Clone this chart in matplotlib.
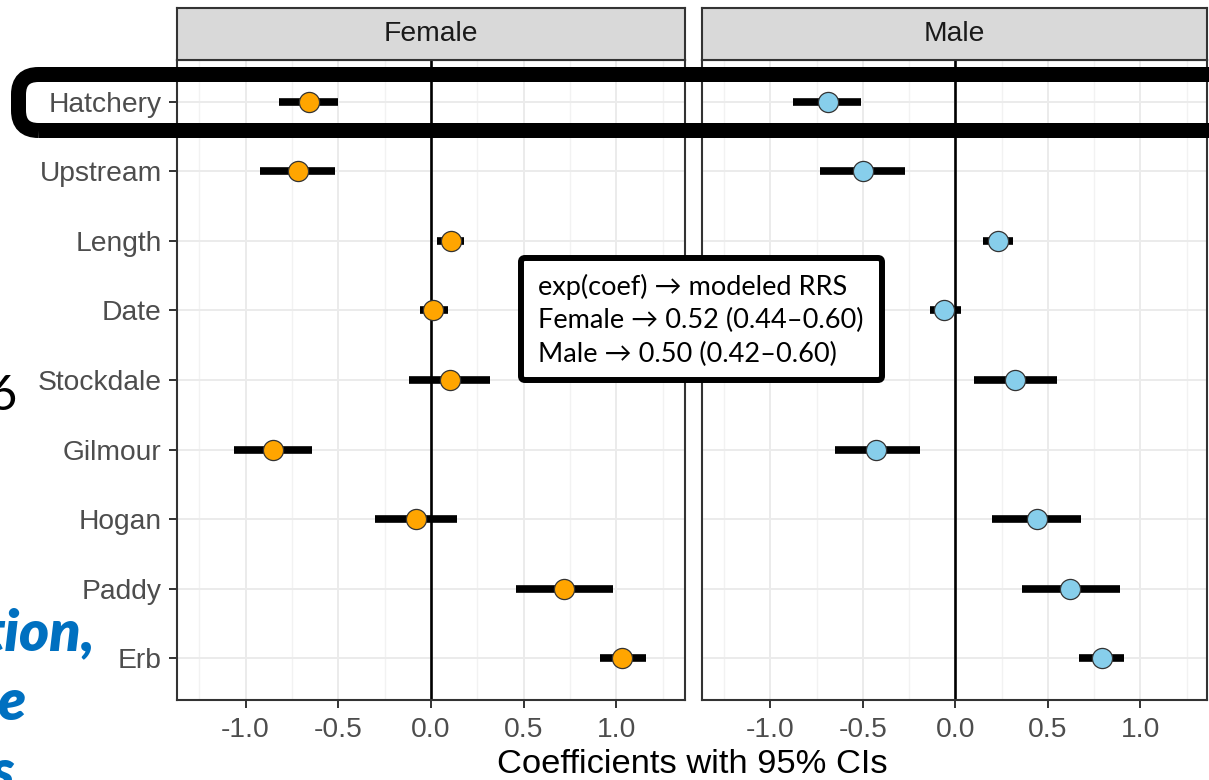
import matplotlib
matplotlib.use("Agg")
import matplotlib.pyplot as plt
from matplotlib.patches import FancyBboxPatch
import numpy as np

# ---------------- data ----------------
categories = ["Hatchery", "Upstream", "Length", "Date", "Stockdale",
              "Gilmour", "Hogan", "Paddy", "Erb"]
panels = ["Female", "Male"]

female_coef = [-0.66, -0.72, 0.11, 0.01, 0.10, -0.85, -0.08, 0.72, 1.03]
female_lo   = [-0.82, -0.92, 0.03, -0.06, -0.12, -1.06, -0.30, 0.46, 0.91]
female_hi   = [-0.50, -0.52, 0.18, 0.09, 0.32, -0.64, 0.14, 0.98, 1.16]

male_coef = [-0.69, -0.50, 0.23, -0.06, 0.32, -0.43, 0.44, 0.62, 0.79]
male_lo   = [-0.88, -0.73, 0.15, -0.14, 0.10, -0.65, 0.20, 0.36, 0.67]
male_hi   = [-0.51, -0.27, 0.31, 0.03, 0.55, -0.19, 0.68, 0.89, 0.91]

xticks = [-1.0, -0.5, 0.0, 0.5, 1.0]
xtick_labels = ["-1.0", "-0.5", "0.0", "0.5", "1.0"]
minor_ticks = [-1.25, -0.75, -0.25, 0.25, 0.75, 1.25]

xlabel = "Coefficients with 95% CIs"
note_lines = ["exp(coef) \u2192 modeled RRS",
              "Female \u2192 0.52 (0.44\u20130.60)",
              "Male \u2192 0.50 (0.42\u20130.60)"]

colors = {"Female": "#FFA500", "Male": "#87CEEB"}

# ---------------- figure ----------------
W, H = 1209, 780
fig = plt.figure(figsize=(W / 100, H / 100), dpi=100)
fig.patch.set_facecolor("white")

def fx(px):
    return px / W

def fy(py):
    return 1 - py / H

sans = ["Liberation Sans", "DejaVu Sans"]
tick_fs = 20.3
panel_top, panel_bot = 60, 700
strip_top = 8

panel_x = {"Female": (177, 685, (-1.37, 1.37)),
           "Male": (702, 1207, (-1.37, 1.36))}
data = {"Female": (female_coef, female_lo, female_hi),
        "Male": (male_coef, male_lo, male_hi)}

ypos = np.arange(len(categories))

for name in panels:
    x0, x1, xl = panel_x[name]
    ax = fig.add_axes([fx(x0), fy(panel_bot), fx(x1 - x0), (panel_bot - panel_top) / H])
    coef, lo, hi = data[name]
    ax.set_xlim(*xl)
    ax.set_ylim(len(categories) - 1 + 0.6, -0.6)
    # grid
    for m in minor_ticks:
        ax.axvline(m, color="#F2F2F2", lw=1.0, zorder=0)
    for t in xticks:
        ax.axvline(t, color="#EBEBEB", lw=1.4, zorder=0)
    for y in ypos:
        ax.axhline(y, color="#EBEBEB", lw=1.4, zorder=0)
    ax.axvline(0, color="black", lw=1.9, zorder=1)
    ax.hlines(ypos, lo, hi, color="black", lw=5.5, capstyle="butt", zorder=2)
    ax.plot(coef, ypos, "o", ms=14.5, mfc=colors[name], mec="#333333", mew=0.9,
            zorder=3, ls="none")
    ax.set_xticks(xticks)
    ax.set_xticklabels(xtick_labels, fontsize=tick_fs, color="#4D4D4D", family=sans)
    ax.set_yticks(ypos)
    if name == "Female":
        ax.set_yticklabels(categories, fontsize=tick_fs, color="#4D4D4D", family=sans)
        ax.tick_params(axis="y", length=6, width=1.4, color="#333333", pad=5)
    else:
        ax.set_yticklabels([])
        ax.tick_params(axis="y", length=0)
    ax.tick_params(axis="x", length=6, width=1.4, color="#333333", pad=6)
    for s in ax.spines.values():
        s.set_color("#333333")
        s.set_linewidth(1.5)
    # strip
    sax = fig.add_axes([fx(x0), fy(panel_top), fx(x1 - x0), (panel_top - strip_top) / H])
    sax.set_facecolor("#D9D9D9")
    sax.set_xticks([])
    sax.set_yticks([])
    for s in sax.spines.values():
        s.set_color("#333333")
        s.set_linewidth(1.5)
    sax.text(0.5, 0.5, name, ha="center", va="center", fontsize=tick_fs,
             color="#1A1A1A", family=sans, transform=sax.transAxes)

fig.text(fx(692), fy(773), xlabel, ha="center", va="baseline", fontsize=24.8,
         color="black", family=sans)

# annotation box
inch = fig.dpi_scale_trans
box = FancyBboxPatch((521 / 100, (H - 380) / 100), (882 - 521) / 100, (380 - 258) / 100,
                     boxstyle="round,pad=0,rounding_size=0.04", transform=inch,
                     facecolor="white", edgecolor="black", lw=4.3, zorder=20)
fig.add_artist(box)
note_font = ["Lato", "DejaVu Sans"]
for i, line in enumerate(note_lines):
    fig.text(fx(538), fy(295 + 33.5 * i), line, ha="left", va="baseline",
             fontsize=19.5, family=note_font, color="black", zorder=21)

# highlight rounded rectangle around Hatchery row
hl = FancyBboxPatch((18.5 / 100, (H - 130.5) / 100), (1260 - 18.5) / 100, (130.5 - 74.5) / 100,
                    boxstyle="round,pad=0,rounding_size=0.2", transform=inch,
                    facecolor="none", edgecolor="black", lw=10.8, zorder=25)
fig.add_artist(hl)

# slide text fragments on the left edge (cut off by the crop, as in the source)
fig.text(fx(17), fy(410), "6", ha="right", va="baseline", fontsize=35,
         family=note_font, color="black")
blue = "#0070C0"
fig.text(fx(95), fy(650), "tion,", ha="right", va="baseline", fontsize=41,
         family=note_font, color=blue, fontweight="heavy", fontstyle="italic")
fig.text(fx(25), fy(720), "e", ha="right", va="baseline", fontsize=41,
         family=note_font, color=blue, fontweight="heavy", fontstyle="italic")
fig.text(fx(14), fy(790), "s", ha="right", va="baseline", fontsize=41,
         family=note_font, color=blue, fontweight="heavy", fontstyle="italic")

fig.savefig("out.png", dpi=100)
